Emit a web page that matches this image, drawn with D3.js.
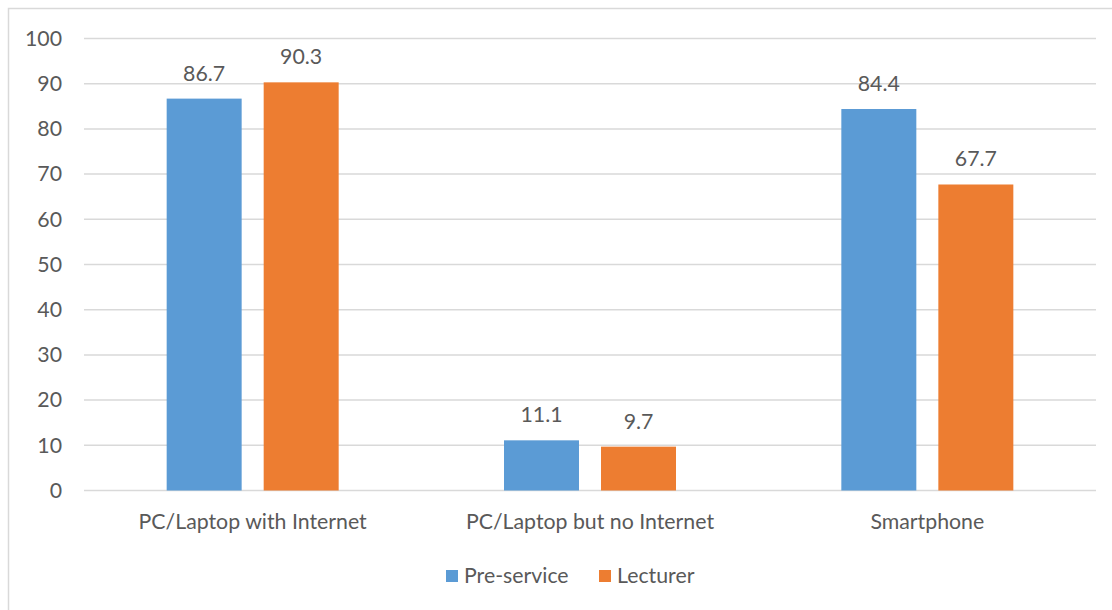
<!DOCTYPE html>
<html>
<head>
<meta charset="utf-8">
<script src="https://cdn.jsdelivr.net/npm/d3@7"></script>
<style>
  html, body { margin: 0; padding: 0; background: #fff; }
  svg { display: block; }
  text { font-family: Lato, "Open Sans", sans-serif; fill: #595959; }
</style>
</head>
<body>
<svg id="chart" width="1112" height="610"></svg>
<script>
// Device access by group (%)
const categories = ["PC/Laptop with Internet", "PC/Laptop but no Internet", "Smartphone"];
const seriesNames = ["Pre-service", "Lecturer"];
const preService = [86.7, 11.1, 84.4];
const lecturer = [90.3, 9.7, 67.7];
const yTicks = [0, 10, 20, 30, 40, 50, 60, 70, 80, 90, 100];
const colors = ["#5B9BD5", "#ED7D31"];

const FS = 21.3;
const svg = d3.select("#chart");
const W = 1112, H = 610;

// Chart frame
svg.append("rect")
  .attr("x", 8.5).attr("y", 8.5)
  .attr("width", W + 20).attr("height", H + 20)
  .attr("fill", "none").attr("stroke", "#d9d9d9").attr("stroke-width", 1.5);

const plot = { left: 84, right: 1096, top: 38.5, bottom: 490.5 };

const y = d3.scaleLinear().domain([0, 100]).range([plot.bottom, plot.top]);
const x0 = d3.scaleBand().domain(categories).range([plot.left, plot.right]).padding(0);
const groupWidth = 172;
const x1 = d3.scaleBand().domain(seriesNames).range([0, groupWidth]).paddingInner(0.227).paddingOuter(0);

// Gridlines
svg.append("g")
  .selectAll("line")
  .data(yTicks)
  .join("line")
  .attr("x1", plot.left).attr("x2", plot.right)
  .attr("y1", d => y(d)).attr("y2", d => y(d))
  .attr("stroke", "#d9d9d9").attr("stroke-width", 1.5);

// Y axis labels
const yAxis = d3.axisLeft(y).tickValues(yTicks).tickSize(0).tickPadding(0);
const yG = svg.append("g").attr("transform", `translate(62,0)`).call(yAxis);
yG.select(".domain").remove();
yG.selectAll("text")
  .attr("font-size", FS)
  .attr("fill", "#595959")
  .style("font-family", "Lato, 'Open Sans', sans-serif");

// Bars
const rows = categories.map((c, i) => ({ cat: c, values: [
  { name: seriesNames[0], v: preService[i] },
  { name: seriesNames[1], v: lecturer[i] }
]}));

const groups = svg.append("g").selectAll("g")
  .data(rows)
  .join("g")
  .attr("transform", d => `translate(${x0(d.cat) + (x0.bandwidth() - groupWidth) / 2},0)`);

groups.selectAll("rect")
  .data(d => d.values)
  .join("rect")
  .attr("x", d => x1(d.name))
  .attr("width", x1.bandwidth())
  .attr("y", d => y(d.v))
  .attr("height", d => y(0) - y(d.v))
  .attr("fill", (d, i) => colors[i]);

groups.selectAll("text.val")
  .data(d => d.values)
  .join("text")
  .attr("class", "val")
  .attr("x", d => x1(d.name) + x1.bandwidth() / 2)
  .attr("y", d => y(d.v) - 18)
  .attr("text-anchor", "middle")
  .attr("font-size", FS)
  .text(d => d.v.toFixed(1));

// Category labels
const xAxis = d3.axisBottom(x0).tickSize(0).tickPadding(0);
const xG = svg.append("g").attr("transform", `translate(0,${plot.bottom})`).call(xAxis);
xG.select(".domain").remove();
xG.selectAll("text")
  .attr("y", 38.5).attr("dy", 0)
  .attr("font-size", FS)
  .attr("fill", "#595959")
  .style("font-family", "Lato, 'Open Sans', sans-serif");

// Legend
const legendX = [446, 599];
const legend = svg.append("g").selectAll("g")
  .data(seriesNames)
  .join("g")
  .attr("transform", (d, i) => `translate(${legendX[i]},570)`);
legend.append("rect").attr("width", 12).attr("height", 12).attr("fill", (d, i) => colors[i]);
legend.append("text").attr("x", 18).attr("y", 13).attr("font-size", FS).text(d => d);
</script>
</body>
</html>
